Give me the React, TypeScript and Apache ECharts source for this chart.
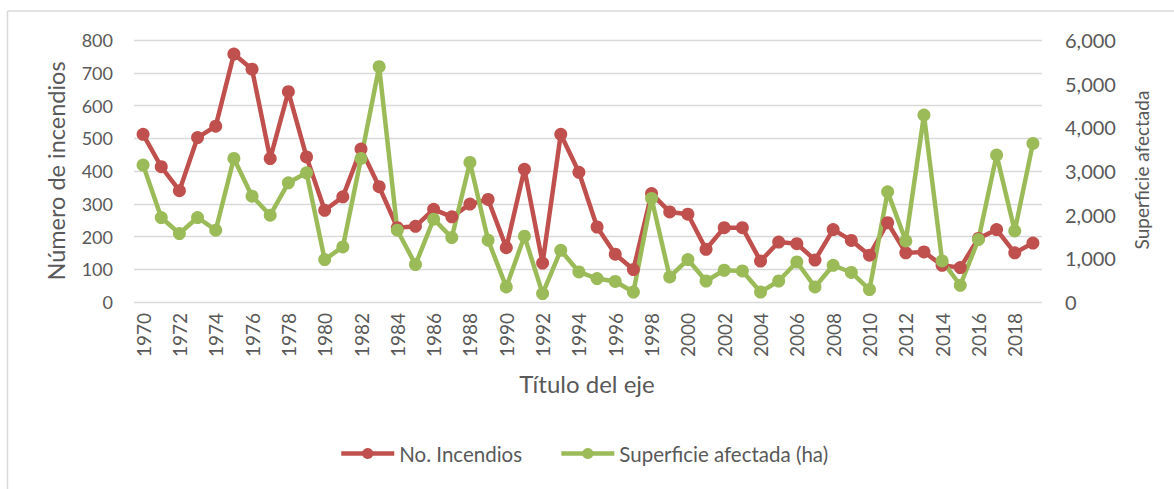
import React, { useEffect, useRef } from "react";
import * as echarts from "echarts";

const years: string[] = [];
for (let y = 1970; y <= 2019; y++) years.push(String(y));

const incendios = [
  512, 413, 340, 502, 537, 757, 711, 438, 642, 443,
  280, 321, 467, 352, 227, 231, 283, 260, 299, 313,
  166, 405, 119, 512, 396, 229, 146, 99, 331, 275,
  268, 161, 227, 227, 125, 183, 178, 128, 221, 188,
  143, 242, 150, 153, 112, 105, 194, 221, 150, 180,
];

const superficie = [
  3135, 1935, 1568, 1935, 1644, 3288, 2424, 1988, 2729, 2958,
  972, 1261, 3288, 5388, 1644, 857, 1896, 1476, 3196, 1415,
  344, 1506, 193, 1185, 688, 537, 470, 229, 2371, 573,
  972, 481, 727, 711, 229, 481, 917, 344, 841, 676,
  284, 2522, 1399, 4281, 940, 383, 1431, 3364, 1628, 3632,
];

const leftTitle = "Número de incendios";
const rightTitle = "Superficie afectada";
const xTitle = "Título del eje";
const seriesNames = ["No. Incendios", "Superficie afectada (ha)"];

const FONT = "Lato";
const TXT = "#595959";
const RED = "#C0504D";
const GREEN = "#9BBB59";

export default function App() {
  const ref = useRef<HTMLDivElement>(null);
  useEffect(() => {
    document.body.style.margin = "0";
    if (!ref.current) return;
    const chart = echarts.init(ref.current, undefined, { renderer: "svg" });
    chart.setOption({
      animation: false,
      backgroundColor: "#ffffff",
      textStyle: { fontFamily: FONT, color: TXT },
      grid: { left: 134, right: 132, top: 40, bottom: 187, containLabel: false },
      legend: {
        left: 339,
        top: 443,
        padding: 0,
        itemWidth: 53,
        itemHeight: 14,
        itemGap: 37,
        lineStyle: { width: 4.5 },
        textStyle: { fontFamily: FONT, fontSize: 20.5, color: TXT },
        data: seriesNames,
      },
      xAxis: {
        type: "category",
        data: years,
        boundaryGap: true,
        axisLine: { show: false },
        axisTick: { show: false },
        axisLabel: {
          rotate: 90,
          interval: 1,
          margin: 11,
          fontFamily: FONT,
          fontSize: 19,
          color: TXT,
        },
      },
      yAxis: [
        {
          type: "value",
          min: 0,
          max: 800,
          interval: 100,
          axisLine: { show: false },
          axisTick: { show: false },
          axisLabel: { margin: 21, fontFamily: FONT, fontSize: 18, color: TXT },
          splitLine: { lineStyle: { color: "#d9d9d9", width: 1.3 } },
        },
        {
          type: "value",
          min: 0,
          max: 6000,
          interval: 1000,
          axisLine: { show: false },
          axisTick: { show: false },
          axisLabel: {
            margin: 23,
            fontFamily: FONT,
            fontSize: 20,
            color: TXT,
            formatter: (v: number) => v.toLocaleString("en-US"),
          },
          splitLine: { show: false },
        },
      ],
      series: [
        {
          name: seriesNames[0],
          type: "line",
          data: incendios,
          yAxisIndex: 0,
          symbol: "circle",
          symbolSize: 13,
          showAllSymbol: true,
          lineStyle: { color: RED, width: 4.5 },
          itemStyle: { color: RED },
        },
        {
          name: seriesNames[1],
          type: "line",
          data: superficie,
          yAxisIndex: 1,
          symbol: "circle",
          symbolSize: 13,
          showAllSymbol: true,
          lineStyle: { color: GREEN, width: 4.5 },
          itemStyle: { color: GREEN },
        },
      ],
      graphic: [
        {
          type: "line",
          shape: { x1: 7.5, y1: 11, x2: 1174, y2: 11 },
          style: { stroke: "#d9d9d9", lineWidth: 1.5 },
        },
        {
          type: "line",
          shape: { x1: 7.5, y1: 11, x2: 7.5, y2: 489 },
          style: { stroke: "#d9d9d9", lineWidth: 1.5 },
        },
        {
          type: "text",
          x: 56,
          y: 171,
          rotation: Math.PI / 2,
          style: {
            text: leftTitle,
            fontFamily: FONT,
            fontSize: 23.5,
            fill: TXT,
            align: "center",
            verticalAlign: "middle",
          },
        },
        {
          type: "text",
          x: 1141,
          y: 170,
          rotation: Math.PI / 2,
          style: {
            text: rightTitle,
            fontFamily: FONT,
            fontSize: 19,
            fill: TXT,
            align: "center",
            verticalAlign: "middle",
          },
        },
        {
          type: "text",
          x: 587,
          y: 383,
          style: {
            text: xTitle,
            fontFamily: FONT,
            fontSize: 24,
            fill: TXT,
            align: "center",
            verticalAlign: "middle",
          },
        },
      ],
    });
    return () => chart.dispose();
  }, []);
  return <div ref={ref} style={{ width: 1174, height: 489 }} />;
}
